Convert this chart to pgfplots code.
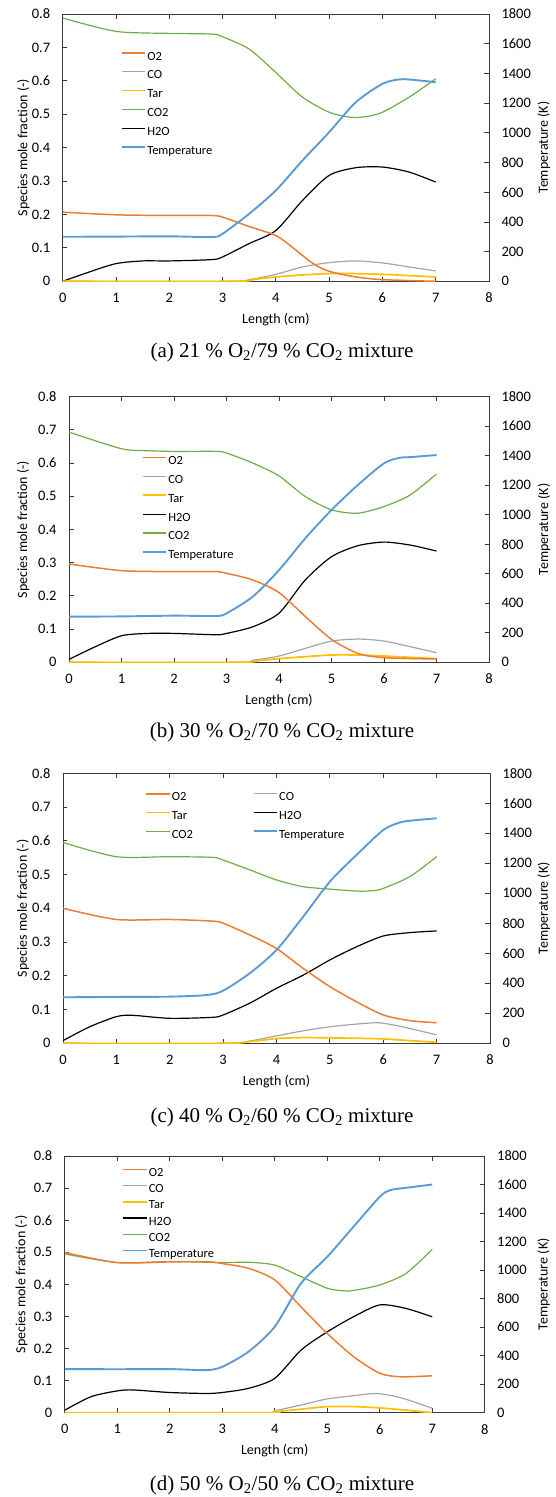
\documentclass[border=0pt]{standalone}
\usepackage{fontspec}
\setmainfont{Carlito}
\newfontfamily\capfont{Liberation Serif}
\usepackage{pgfplots}
\pgfplotsset{compat=1.18}

\definecolor{cO2}{HTML}{ED7D31}
\definecolor{cCO}{HTML}{A5A5A5}
\definecolor{cTar}{HTML}{FFC000}
\definecolor{cCOtwo}{HTML}{70AD47}
\definecolor{cHtwoO}{HTML}{000000}
\definecolor{cT}{HTML}{5B9BD5}
\definecolor{frame}{HTML}{3A3A3A}

\pgfplotsset{
  sO2/.style={cO2, line width=1.5pt},
  sCO/.style={cCO, line width=1.2pt},
  sTar/.style={cTar, line width=1.7pt},
  sCO2/.style={cCOtwo, line width=1.2pt},
  sH2O/.style={cHtwoO, line width=1.2pt},
  sT/.style={cT, line width=1.9pt},
  curve/.style={smooth, tension=0.45, no markers},
  leftlab/.store in=\leftlabpos, leftlab=-0.092,
  rightlab/.store in=\rightlabpos, rightlab=1.129,
  base/.style={
    scale only axis, xmin=0, xmax=8,
    tick align=inside, major tick length=4.5pt,
    axis line style={frame, line width=0.8pt},
    every tick/.style={frame, line width=0.8pt},
    tick label style={font=\fontsize{14.5}{16}\selectfont},
    /pgf/number format/assume math mode=true,
    /pgf/number format/1000 sep={},
  },
  species/.style={
    base, ymin=0, ymax=0.8,
    ytick={0,0.1,0.2,0.3,0.4,0.5,0.6,0.7,0.8},
    yticklabel style={/pgf/number format/fixed, /pgf/number format/precision=1, xshift=-9pt},
    xtick={0,1,2,3,4,5,6,7,8},
    xticklabel style={yshift=-8pt},
    xtick pos=both, xticklabel pos=lower, ytick pos=left,
    xlabel={Length (cm)}, ylabel={Species mole fraction (-)},
    every axis x label/.style={at={(axis description cs:0.5,0)}, anchor=center, yshift=-38pt,
      font=\fontsize{14}{16}\selectfont},
    every axis y label/.style={at={(axis description cs:\leftlabpos,0.5)}, anchor=center, rotate=90,
      font=\fontsize{14}{16}\selectfont},
    legend cell align=left,
    legend image code/.code={\draw[##1] (0pt,4pt) -- (23.5pt,4pt);},
    legend style={draw=none, fill=none, inner sep=0pt, anchor=north west,
      font=\fontsize{12.5}{14}\selectfont,
      nodes={inner xsep=1pt, inner ysep=1pt, text height=9pt, text depth=3pt},
      row sep=4.8pt},
  },
  temp/.style={
    base, ymin=0, ymax=1800,
    ytick={0,200,400,600,800,1000,1200,1400,1600,1800},
    yticklabel style={xshift=9pt},
    axis x line=none, axis y line*=right, ytick pos=right,
    ylabel={Temperature (K)},
    every axis y label/.style={at={(axis description cs:\rightlabpos,0.5)}, anchor=center, rotate=90,
      font=\fontsize{14}{16}\selectfont},
  },
}

\begin{document}
\begin{tikzpicture}
\useasboundingbox (0pt,0pt) rectangle (556pt,-1497pt);

% ---------------- (a) 21 % O2 ----------------
\begin{axis}[species, at={(62.7pt,-281.3pt)}, anchor=south west, width=426.3pt, height=267.3pt,
  leftlab=-0.0922,
  legend style={at={(axis description cs:0.136,0.866)}}]
\addlegendimage{sO2}\addlegendentry{O2}
\addlegendimage{sCO}\addlegendentry{CO}
\addlegendimage{sTar}\addlegendentry{Tar}
\addlegendimage{sCO2}\addlegendentry{CO2}
\addlegendimage{sH2O}\addlegendentry{H2O}
\addlegendimage{sT}\addlegendentry{Temperature}
\addplot[sCO2, curve, forget plot] coordinates {(0,0.788) (1,0.748) (2,0.742) (2.8,0.740) (3,0.732) (3.5,0.695) (4,0.625) (4.5,0.551) (5,0.506) (5.4,0.491) (5.7,0.493) (6,0.506) (6.5,0.551) (7,0.606)};
\addplot[sH2O, curve, forget plot] coordinates {(0,0) (0.5,0.028) (1,0.053) (1.5,0.061) (2,0.061) (2.8,0.065) (3,0.073) (3.5,0.113) (4,0.152) (4.5,0.242) (5,0.317) (5.5,0.340) (6,0.342) (6.5,0.327) (7,0.297)};
\addplot[sCO, curve, forget plot] coordinates {(0,0) (3.1,0) (3.5,0.005) (4,0.021) (4.5,0.043) (5,0.056) (5.5,0.061) (6,0.055) (6.5,0.043) (7,0.031)};
\addplot[sTar, curve, forget plot] coordinates {(0,0) (3.2,0) (3.6,0.006) (4,0.013) (4.5,0.019) (5,0.023) (5.5,0.023) (6,0.021) (6.5,0.017) (7,0.013)};
\addplot[sO2, curve, forget plot] coordinates {(0,0.207) (1,0.199) (2,0.197) (2.8,0.197) (3,0.192) (3.5,0.164) (4,0.137) (4.3,0.103) (4.7,0.053) (5,0.030) (5.5,0.013) (6,0.005) (7,0)};
\end{axis}
\begin{axis}[temp, at={(62.7pt,-281.3pt)}, anchor=south west, width=426.3pt, height=267.3pt, rightlab=1.129]
\addplot[sT, curve] coordinates {(0,300) (1,301) (2,303) (2.8,298) (3,320) (3.5,455) (4,612) (4.5,814) (5,1004) (5.5,1206) (6,1330) (6.3,1359) (6.5,1359) (7,1341)};
\end{axis}
\node[font=\capfont\fontsize{21}{25}\selectfont] at (282pt,-352pt) {(a) 21 \% O\textsubscript{2}/79 \% CO\textsubscript{2} mixture};

% ---------------- (b) 30 % O2 ----------------
\begin{axis}[species, at={(69.1pt,-662.3pt)}, anchor=south west, width=419.9pt, height=265.7pt,
  leftlab=-0.1096,
  legend style={at={(axis description cs:0.173,0.782)}}]
\addlegendimage{sO2}\addlegendentry{O2}
\addlegendimage{sCO}\addlegendentry{CO}
\addlegendimage{sTar}\addlegendentry{Tar}
\addlegendimage{sH2O}\addlegendentry{H2O}
\addlegendimage{sCO2}\addlegendentry{CO2}
\addlegendimage{sT}\addlegendentry{Temperature}
\addplot[sCO2, curve, forget plot] coordinates {(0,0.693) (1,0.643) (1.5,0.637) (2,0.635) (2.8,0.635) (3,0.630) (3.5,0.600) (4,0.561) (4.5,0.499) (5,0.459) (5.5,0.449) (6,0.469) (6.5,0.504) (7,0.567)};
\addplot[sH2O, curve, forget plot] coordinates {(0,0.009) (0.5,0.047) (1,0.080) (1.5,0.087) (2,0.087) (2.8,0.083) (3,0.087) (3.5,0.107) (4,0.148) (4.5,0.248) (5,0.318) (5.5,0.351) (6,0.362) (6.5,0.353) (7,0.335)};
\addplot[sCO, curve, forget plot] coordinates {(0,0) (3.2,0) (3.5,0.006) (4,0.019) (4.5,0.042) (5,0.064) (5.5,0.070) (6,0.064) (6.5,0.047) (7,0.029)};
\addplot[sTar, curve, forget plot] coordinates {(0,0) (3.2,0) (3.6,0.005) (4,0.011) (4.5,0.017) (5,0.022) (5.5,0.022) (6,0.019) (6.5,0.015) (7,0.011)};
\addplot[sO2, curve, forget plot] coordinates {(0,0.296) (1,0.276) (2,0.273) (2.8,0.273) (3,0.268) (3.5,0.248) (4,0.210) (4.5,0.138) (5,0.069) (5.5,0.027) (6,0.014) (7,0.010)};
\end{axis}
\begin{axis}[temp, at={(69.1pt,-662.3pt)}, anchor=south west, width=419.9pt, height=265.7pt, rightlab=1.131]
\addplot[sT, curve] coordinates {(0,309) (1,311) (2,316) (2.8,314) (3,332) (3.5,445) (4,625) (4.5,840) (5,1032) (5.5,1201) (6,1348) (6.3,1386) (6.5,1390) (7,1404)};
\end{axis}
\node[font=\capfont\fontsize{21}{25}\selectfont] at (282pt,-732pt) {(b) 30 \% O\textsubscript{2}/70 \% CO\textsubscript{2} mixture};

% ---------------- (c) 40 % O2 ----------------
\begin{axis}[species, at={(63pt,-1043.3pt)}, anchor=south west, width=427pt, height=270pt,
  leftlab=-0.0937,
  legend columns=2,
  legend style={at={(axis description cs:0.193,0.936)},
    nodes={text width=80pt, align=left}}]
\addlegendimage{sO2}\addlegendentry{O2}
\addlegendimage{sCO}\addlegendentry{CO}
\addlegendimage{sTar}\addlegendentry{Tar}
\addlegendimage{sH2O}\addlegendentry{H2O}
\addlegendimage{sCO2}\addlegendentry{CO2}
\addlegendimage{sT}\addlegendentry{Temperature}
\addplot[sCO2, curve, forget plot] coordinates {(0,0.595) (1,0.553) (2,0.553) (2.8,0.551) (3,0.543) (3.5,0.514) (4,0.484) (4.5,0.464) (5,0.457) (5.5,0.451) (5.8,0.452) (6,0.459) (6.5,0.494) (7,0.553)};
\addplot[sH2O, curve, forget plot] coordinates {(0,0.008) (0.5,0.049) (1,0.079) (1.3,0.083) (2,0.074) (2.8,0.077) (3,0.084) (3.5,0.119) (4,0.163) (4.5,0.202) (5,0.247) (5.5,0.286) (6,0.318) (6.5,0.328) (7,0.333)};
\addplot[sCO, curve, forget plot] coordinates {(0,0) (3,0) (3.5,0.007) (4,0.022) (4.5,0.037) (5,0.049) (5.5,0.057) (5.9,0.061) (6.2,0.054) (6.5,0.044) (7,0.025)};
\addplot[sTar, curve, forget plot] coordinates {(0,0) (3,0) (3.5,0.005) (4,0.014) (4.5,0.017) (5,0.016) (5.5,0.015) (6,0.013) (6.5,0.008) (7,0.003)};
\addplot[sO2, curve, forget plot] coordinates {(0,0.400) (1,0.367) (2,0.367) (2.8,0.362) (3,0.356) (3.5,0.321) (4,0.281) (4.5,0.222) (5,0.168) (5.5,0.123) (6,0.084) (6.5,0.067) (7,0.061)};
\end{axis}
\begin{axis}[temp, at={(63pt,-1043.3pt)}, anchor=south west, width=427pt, height=270pt, rightlab=1.126]
\addplot[sT, curve] coordinates {(0,307) (1,309) (2,311) (2.7,322) (3,351) (3.5,467) (4,622) (4.5,844) (5,1078) (5.5,1256) (6,1422) (6.3,1471) (6.5,1484) (7,1500)};
\end{axis}
\node[font=\capfont\fontsize{21}{25}\selectfont] at (282pt,-1117pt) {(c) 40 \% O\textsubscript{2}/60 \% CO\textsubscript{2} mixture};

% ---------------- (d) 50 % O2 ----------------
\begin{axis}[species, at={(64.8pt,-1412.7pt)}, anchor=south west, width=419.9pt, height=256.7pt,
  leftlab=-0.1036,
  legend style={at={(axis description cs:0.137,0.960)}, row sep=2.2pt}]
\addlegendimage{sO2}\addlegendentry{O2}
\addlegendimage{sCO}\addlegendentry{CO}
\addlegendimage{sTar}\addlegendentry{Tar}
\addlegendimage{sH2O}\addlegendentry{H2O}
\addlegendimage{sCO2}\addlegendentry{CO2}
\addlegendimage{sT}\addlegendentry{Temperature}
\addplot[sCO2, curve, forget plot] coordinates {(0,0.495) (1,0.468) (2,0.471) (3,0.468) (3.5,0.469) (4,0.460) (4.5,0.424) (5,0.388) (5.3,0.380) (5.5,0.381) (6,0.398) (6.5,0.434) (7,0.509)};
\addplot[sH2O, curve, forget plot] coordinates {(0,0.008) (0.5,0.050) (1,0.068) (1.3,0.071) (2,0.063) (2.7,0.060) (3,0.063) (3.5,0.076) (4,0.107) (4.5,0.195) (5,0.252) (5.5,0.299) (6,0.336) (6.5,0.325) (7,0.299)};
\addplot[sCO, curve, forget plot] coordinates {(0,0) (3.8,0) (4,0.006) (4.5,0.024) (5,0.043) (5.5,0.053) (5.9,0.060) (6.2,0.054) (6.5,0.042) (7,0.014)};
\addplot[sTar, curve, forget plot] coordinates {(0,0) (3.8,0) (4,0.003) (4.5,0.011) (5,0.019) (5.5,0.019) (6,0.015) (6.5,0.008) (7,0)};
\addplot[sO2, curve, forget plot] coordinates {(0,0.499) (1,0.468) (2,0.470) (2.7,0.471) (3,0.465) (3.5,0.450) (4,0.414) (4.5,0.330) (5,0.247) (5.5,0.175) (6,0.123) (6.4,0.112) (7,0.115)};
\end{axis}
\begin{axis}[temp, at={(64.8pt,-1412.7pt)}, anchor=south west, width=419.9pt, height=256.7pt, rightlab=1.1405]
\addplot[sT, curve] coordinates {(0,306) (1,305) (2,306) (2.7,299) (3,322) (3.5,428) (4,603) (4.5,907) (5,1093) (5.5,1304) (6,1514) (6.2,1561) (6.5,1577) (7,1600)};
\end{axis}
\node[font=\capfont\fontsize{21}{25}\selectfont] at (282pt,-1485pt) {(d) 50 \% O\textsubscript{2}/50 \% CO\textsubscript{2} mixture};
\end{tikzpicture}
\end{document}
